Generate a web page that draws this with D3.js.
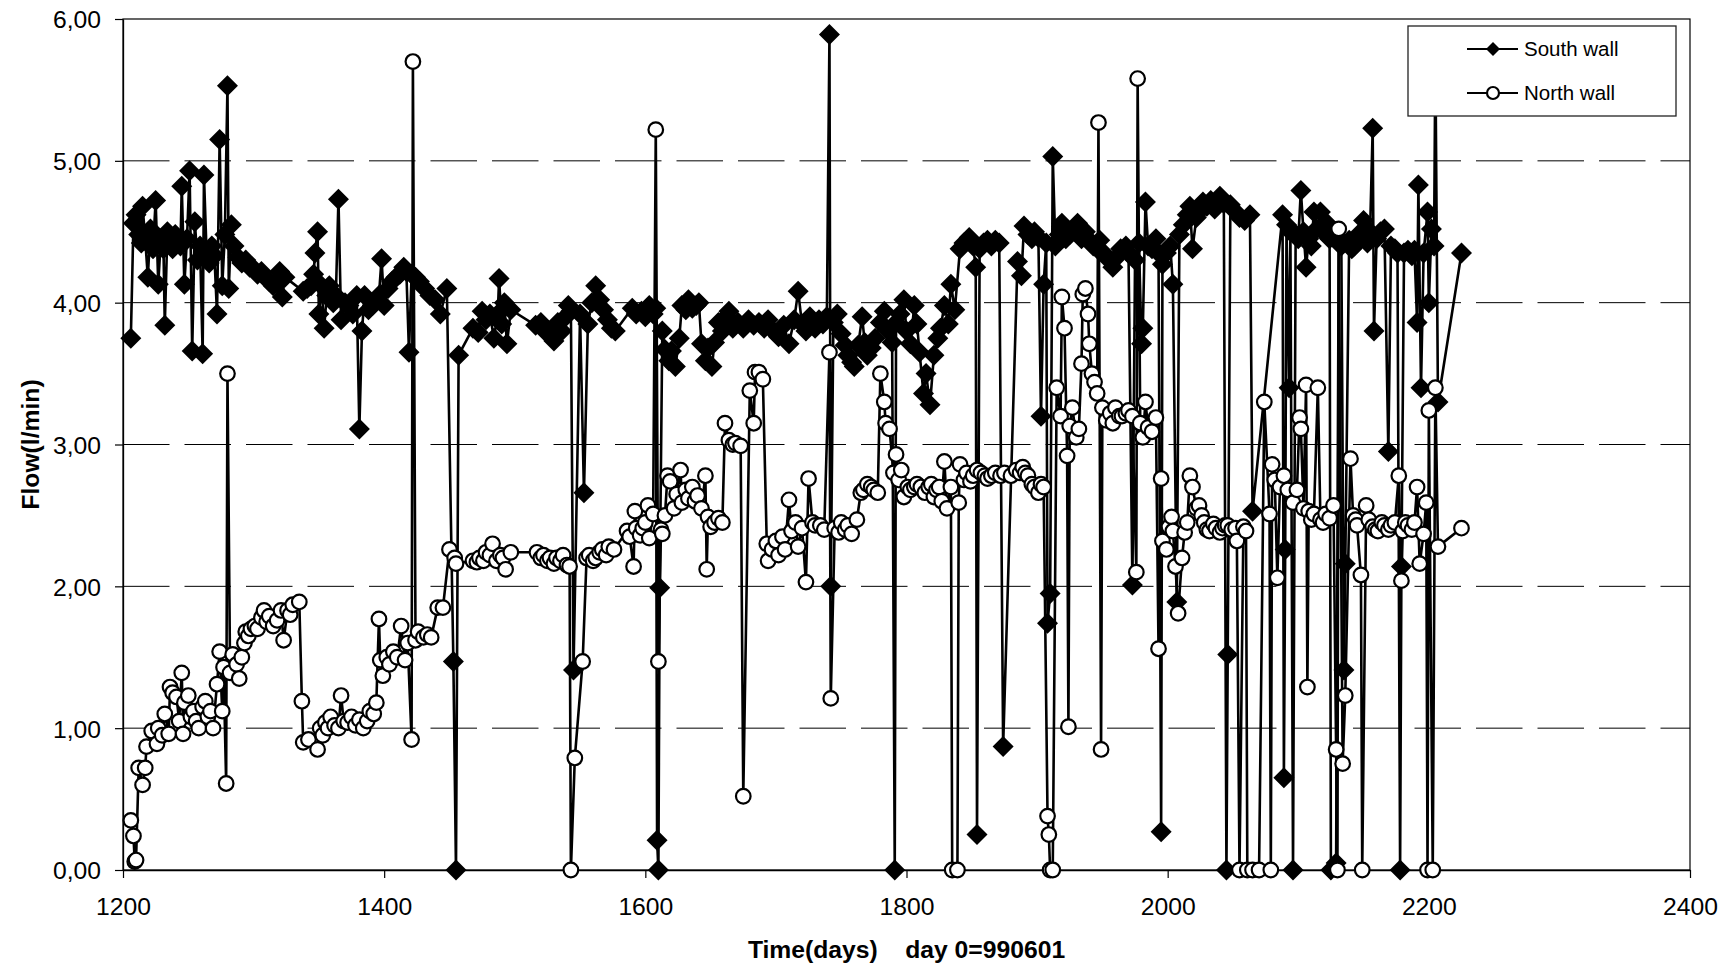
<!DOCTYPE html>
<html>
<head>
<meta charset="utf-8">
<title>Flow South / North wall</title>
<script src="https://cdn.jsdelivr.net/npm/d3@7"></script>
<style>
  body { margin: 0; background: #fff; }
  svg { display: block; font-family: "Liberation Sans", Arial, sans-serif; }
</style>
</head>
<body>
<script>
// South wall, day / flow (l/min)
var southDays = [1206,1208,1210,1212,1214,1215,1217,1219,1221,1223,1225,1227,1229,1231,1232,1234,1236,1238,1240,1242,1244,1245,1247,1249,1251,1253,1255,1257,1259,1261,1262,1264,1266,1268,1270,1272,1274,1276,1278,1280,1281,1283,1285,1288,1291,1294,1297,1300,1303,1306,1309,1312,1315,1318,1320,1322,1324,
  1338,1341,1344,1346,1347,1349,1350,1352,1354,1356,1358,1361,1363,1365,1367,1370,1373,1376,1379,1381,1383,1385,1388,1391,1394,1396,1398,1400,1403,1406,1409,1412,1415,1417,1419,1421,1424,1427,1431,1435,1439,1443,1448,1453,1455,1457,
  1468,1472,1475,1478,1481,1484,1487,1488,1490,1492,1494,1497,1516,1520,1523,1526,1530,1533,1536,1539,1541,1543,1545,1550,1553,1556,1559,1562,1565,1568,1571,1574,1577,
  1590,1593,1597,1600,1603,1606,1608,1609,1610,1611,1613,1615,1618,1620,1623,1626,1628,1631,1633,1636,1639,1641,1643,1646,1648,1651,1653,1656,1659,1662,1664,1667,1671,1675,1679,1683,1687,1691,1694,1698,1702,1706,1710,1714,1717,1720,1723,1726,1730,1733,1736,1739,
  1741,1742,1744,1747,1750,1753,1755,1758,1760,1763,1766,1768,1770,1773,1776,1780,1783,1786,1789,1791,1792,1795,1798,1800,1803,1806,1808,1810,1813,1815,1818,1821,1824,1826,1829,1832,1834,1837,1841,1844,1848,1851,1853,1854,1856,1859,1862,1865,1868,1871,1874,
  1885,1888,1890,1893,1896,1898,1901,1903,1905,1907,1908,1910,1912,1914,1917,1919,1922,1925,1928,1931,1934,1937,1940,1943,1946,1948,1951,1955,1958,1961,1964,1968,1970,1973,1975,1978,1980,1981,1983,1985,1988,1991,1993,1995,1996,1999,
  2002,2004,2007,2009,2012,2015,2017,2019,2022,2025,2027,2030,2033,2036,2040,2043,2045,2046,2048,2051,2055,2059,2063,2065,2088,2089,2090,2091,2093,2094,2096,2098,2100,2102,2104,2106,2108,2110,2112,2114,2117,2119,2122,2124,2125,2129,2131,2133,2135,2136,2139,2141,2143,2146,2148,2150,2153,2155,2157,2158,2160,2163,2166,2169,2171,2174,2176,2178,2179,2181,2184,2187,2189,2191,2192,2194,2196,2199,2200,2202,2204,2205,2207,2225];
var southFlow = [3.75,4.56,4.62,4.48,4.42,4.68,4.45,4.18,4.52,4.38,4.72,4.13,4.45,4.38,3.84,4.50,4.45,4.38,4.48,4.42,4.40,4.82,4.13,4.45,4.93,3.66,4.57,4.30,4.40,3.64,4.90,4.35,4.28,4.40,4.33,3.92,5.15,4.12,4.48,5.53,4.10,4.55,4.40,4.32,4.28,4.30,4.25,4.24,4.20,4.22,4.18,4.15,4.12,4.14,4.22,4.04,4.18,
  4.08,4.10,4.12,4.20,4.35,4.50,3.92,4.12,3.82,4.05,4.12,4.00,4.05,4.73,3.88,4.00,3.98,3.92,4.05,3.11,3.80,4.05,3.95,3.98,4.02,4.05,4.31,3.98,4.10,4.15,4.18,4.20,4.25,4.22,3.65,4.20,4.18,4.15,4.10,4.05,4.02,3.92,4.10,1.47,0.00,3.63,
  3.82,3.79,3.94,3.88,3.92,3.75,3.92,4.17,3.85,4.00,3.71,3.95,3.84,3.86,3.80,3.79,3.73,3.86,3.80,3.90,3.98,3.94,1.41,3.92,2.66,3.85,4.00,4.12,4.02,3.95,3.88,3.82,3.80,
  3.96,3.92,3.94,3.90,3.98,3.92,3.96,0.21,0.00,1.99,3.80,3.67,3.59,3.66,3.55,3.75,3.98,3.95,4.02,3.96,3.98,4.00,3.71,3.59,3.68,3.55,3.72,3.86,3.80,3.90,3.94,3.82,3.86,3.82,3.88,3.84,3.86,3.82,3.88,3.80,3.76,3.84,3.71,3.88,4.08,3.85,3.80,3.90,3.82,3.88,3.85,3.90,
  5.89,2.00,3.86,3.92,3.78,3.70,3.63,3.58,3.55,3.70,3.90,3.72,3.63,3.68,3.75,3.86,3.94,3.80,3.72,0.00,3.86,3.92,4.02,3.80,3.71,3.98,3.85,3.65,3.36,3.50,3.28,3.63,3.75,3.82,3.98,3.85,4.13,3.95,4.38,4.42,4.46,4.40,4.25,0.25,4.38,4.42,4.44,4.40,4.44,4.42,0.87,
  4.29,4.19,4.54,4.48,4.45,4.50,4.46,3.20,4.13,4.42,1.74,1.95,5.03,4.40,4.48,4.56,4.45,4.48,4.52,4.56,4.45,4.50,4.44,4.40,4.38,4.44,4.35,4.30,4.25,4.32,4.38,4.40,4.35,2.01,4.30,4.42,3.71,3.82,4.71,4.40,4.38,4.45,4.35,0.27,4.27,4.35,
  4.40,4.13,1.89,4.48,4.55,4.62,4.68,4.38,4.60,4.65,4.71,4.68,4.72,4.66,4.75,4.70,0.00,1.52,4.69,4.65,4.60,4.58,4.62,2.53,4.62,0.65,2.26,4.55,3.40,4.50,0.00,4.48,4.45,4.79,4.50,4.25,4.45,4.40,4.64,4.52,4.64,4.50,4.56,4.45,0.00,0.05,4.45,4.40,1.41,2.16,4.44,4.38,4.40,4.48,4.45,4.58,4.42,4.50,5.23,3.80,4.45,4.50,4.52,2.95,4.40,4.38,4.35,0.00,2.14,4.35,4.37,4.33,4.37,3.86,4.83,3.40,4.35,4.64,4.00,4.52,4.40,5.75,3.30,4.35];

// North wall, day / flow (l/min)
var northDays = [1206,1208,1209,1210,1212,1215,1217,1218,1222,1226,1227,1230,1232,1235,1236,1238,1241,1243,1245,1246,1247,1250,1252,1254,1256,1258,1261,1263,1265,1267,1269,1272,1274,1276,1277,1279,1280,1282,1284,1287,1289,1291,1293,1294,1296,1298,1301,1303,1306,1308,1310,1312,1315,1318,1321,1323,1326,1328,1330,1335,1337,1338,
  1342,1349,1351,1353,1355,1357,1359,1362,1365,1367,1369,1372,1375,1378,1381,1384,1387,1389,1392,1394,1396,1397,1399,1402,1404,1407,1410,1413,1416,1418,1421,1422,1424,1426,1430,1433,1436,1441,1445,1450,1454,1455,
  1468,1471,1473,1476,1478,1481,1483,1486,1489,1491,1493,1497,1517,1520,1522,1525,1527,1530,1532,1535,1537,1540,1542,1543,1546,1552,1555,1557,1560,1562,1565,1567,1570,1572,1576,
  1586,1588,1591,1592,1593,1596,1598,1600,1602,1603,1606,1608,1610,1612,1613,1615,1617,1619,1622,1624,1627,1628,1631,1633,1636,1638,1640,1643,1646,1647,1648,1650,1653,1656,1659,1661,1664,1667,1669,1673,1675,1680,1683,1684,1687,1690,
  1693,1694,1697,1700,1702,1705,1707,1710,1712,1715,1717,1720,1723,1725,1728,1730,1734,1737,1741,1742,1745,1748,1750,1753,1755,1758,1762,1765,1767,1770,1773,1775,1778,1780,1783,1784,1787,1790,1792,1794,1796,1798,
  1801,1803,1806,1808,1811,1814,1817,1819,1821,1823,1825,1827,1829,1831,1834,1835,1839,1840,1841,1844,1846,1849,1851,1854,1857,1860,1862,1865,1868,1872,1875,1880,1884,1887,1889,1891,1893,1896,1898,1901,1903,1905,1908,1909,1910,1912,
  1915,1918,1919,1921,1923,1924,1925,1927,1930,1932,1934,1935,1937,1939,1940,1942,1944,1946,1947,1949,1950,1953,1956,1958,1960,1963,1965,1968,1970,1973,1976,1977,1979,1981,1983,1985,1988,1991,1993,1995,1996,1999,
  2001,2003,2004,2006,2008,2011,2013,2015,2017,2019,2022,2024,2026,2028,2030,2032,2035,2037,2040,2042,2044,2046,2049,2052,2053,2055,2058,2060,2061,2065,2070,2074,2078,2079,2080,2082,2084,2086,2089,2092,2096,2099,
  2101,2102,2104,2106,2107,2108,2110,2112,2115,2117,2119,2121,2124,2127,2129,2130,2131,2134,2136,2140,2142,2144,2145,2148,2149,2152,2154,2157,2159,2161,2164,2166,2169,2171,2174,2177,2179,2180,2182,2184,2187,2189,2191,2193,2196,2198,2199,2200,2203,2205,2207,2225];
var northFlow = [0.35,0.24,0.06,0.07,0.72,0.60,0.72,0.87,0.98,0.89,1.00,0.95,1.10,0.96,1.29,1.25,1.22,1.05,1.39,0.96,1.18,1.23,1.08,1.12,1.05,1.00,1.15,1.19,1.08,1.12,1.00,1.31,1.54,1.12,1.43,0.61,3.50,1.39,1.52,1.45,1.35,1.50,1.60,1.68,1.65,1.70,1.72,1.70,1.78,1.83,1.75,1.79,1.72,1.76,1.83,1.62,1.83,1.80,1.87,1.89,1.19,0.90,
  0.92,0.85,1.00,0.95,1.04,1.00,1.08,1.02,1.00,1.23,1.05,1.04,1.08,1.02,1.06,1.00,1.05,1.12,1.10,1.18,1.77,1.48,1.37,1.50,1.45,1.54,1.50,1.72,1.48,1.60,0.92,5.70,1.62,1.68,1.64,1.66,1.64,1.85,1.85,2.26,2.20,2.16,
  2.18,2.17,2.20,2.18,2.24,2.22,2.30,2.18,2.22,2.20,2.12,2.24,2.24,2.20,2.22,2.18,2.20,2.16,2.20,2.18,2.22,2.15,2.14,0.00,0.79,1.47,2.20,2.22,2.18,2.20,2.24,2.26,2.22,2.28,2.26,
  2.39,2.35,2.14,2.53,2.41,2.36,2.41,2.45,2.57,2.34,2.51,5.22,1.47,2.40,2.37,2.50,2.78,2.74,2.55,2.65,2.82,2.59,2.68,2.62,2.70,2.60,2.64,2.55,2.78,2.12,2.49,2.42,2.45,2.48,2.45,3.15,3.03,3.00,3.01,2.99,0.52,3.38,3.15,3.51,3.51,3.46,
  2.30,2.18,2.26,2.32,2.22,2.35,2.26,2.61,2.39,2.45,2.28,2.41,2.03,2.76,2.45,2.43,2.43,2.40,3.65,1.21,2.41,2.38,2.45,2.40,2.43,2.37,2.47,2.66,2.68,2.72,2.70,2.68,2.66,3.50,3.30,3.15,3.11,2.80,2.93,2.75,2.82,2.63,
  2.70,2.68,2.70,2.72,2.70,2.66,2.70,2.72,2.63,2.68,2.70,2.60,2.88,2.55,2.70,0.00,0.00,2.59,2.86,2.75,2.80,2.74,2.78,2.82,2.80,2.78,2.76,2.78,2.80,2.78,2.80,2.78,2.82,2.80,2.84,2.80,2.78,2.72,2.70,2.66,2.72,2.70,0.38,0.25,0.00,0.00,
  3.40,3.20,4.04,3.82,2.92,1.01,3.13,3.26,3.05,3.11,3.57,4.06,4.10,3.92,3.71,3.50,3.44,3.36,5.27,0.85,3.26,3.17,3.22,3.15,3.26,3.20,3.20,3.22,3.24,3.20,2.10,5.58,3.15,3.05,3.30,3.12,3.09,3.19,1.56,2.76,2.32,2.26,
  2.42,2.49,2.39,2.14,1.81,2.20,2.38,2.45,2.78,2.70,2.55,2.57,2.50,2.45,2.40,2.39,2.44,2.41,2.38,2.41,2.43,2.43,2.40,2.41,2.32,0.00,2.42,2.39,0.00,0.00,0.00,3.30,2.51,0.00,2.86,2.75,2.06,2.70,2.78,2.68,2.59,2.68,
  3.19,3.11,2.55,3.42,1.29,2.53,2.47,2.51,3.40,2.47,2.45,2.51,2.48,2.57,0.85,0.00,4.52,0.75,1.23,2.90,2.50,2.47,2.43,2.08,0.00,2.57,2.47,2.42,2.40,2.39,2.45,2.43,2.40,2.43,2.45,2.78,2.04,2.39,2.45,2.43,2.40,2.45,2.70,2.16,2.37,2.59,0.00,3.24,0.00,3.40,2.28,2.41];

var xTicks = [1200, 1400, 1600, 1800, 2000, 2200, 2400];
var yTicks = [0, 1, 2, 3, 4, 5, 6];
var seriesNames = ["South wall", "North wall"];

var south = southDays.map(function(d, i) { return [d, southFlow[i]]; });
var north = northDays.map(function(d, i) { return [d, northFlow[i]]; });

const W = 1731, H = 970;
const margin = {top: 19, right: 41, bottom: 100, left: 123};

var svg = d3.select("body").append("svg")
    .attr("width", W)
    .attr("height", H);

var x = d3.scaleLinear().domain([1200, 2400]).range([margin.left, W - margin.right]);
var y = d3.scaleLinear().domain([0, 6]).range([H - margin.bottom, margin.top]);

// dashed gridlines
svg.append("g").selectAll("line")
    .data(yTicks.filter(function(v) { return v > 0 && v < 6; }))
    .enter().append("line")
    .attr("x1", x(1200)).attr("x2", x(2400))
    .attr("y1", function(d) { return y(d); })
    .attr("y2", function(d) { return y(d); })
    .attr("stroke", "#000")
    .attr("stroke-width", 1)
    .attr("stroke-dasharray", "46.5,15");

// plot area frame
svg.append("rect")
    .attr("x", x(1200)).attr("y", y(6))
    .attr("width", x(2400) - x(1200))
    .attr("height", y(0) - y(6))
    .attr("fill", "none")
    .attr("stroke", "#000")
    .attr("stroke-width", 1.2);

var fmt = function(v) { return d3.format(".2f")(v).replace(".", ","); };

var yAxis = svg.append("g")
    .attr("transform", "translate(" + margin.left + ",0)")
    .call(d3.axisLeft(y).tickValues(yTicks).tickSize(8).tickSizeOuter(0).tickPadding(14).tickFormat(fmt));

var xAxis = svg.append("g")
    .attr("transform", "translate(0," + y(0) + ")")
    .call(d3.axisBottom(x).tickValues(xTicks).tickSize(8).tickSizeOuter(0).tickPadding(19.5).tickFormat(d3.format("d")));

[xAxis, yAxis].forEach(function(a) {
    a.selectAll("text")
        .attr("fill", "#000")
        .style("font-family", "'Liberation Sans', Arial, sans-serif")
        .style("font-size", "24.7px");
    a.select(".domain").attr("stroke", "#000").attr("stroke-width", 1.3);
    a.selectAll(".tick line").attr("stroke", "#000").attr("stroke-width", 1.2);
});
yAxis.selectAll("text").attr("dy", "0.36em");

// axis titles
svg.append("text")
    .attr("x", (x(1200) + x(2400)) / 2)
    .attr("y", 958)
    .attr("text-anchor", "middle")
    .style("font-size", "24.7px")
    .style("font-weight", "bold")
    .style("white-space", "pre")
    .text("Time(days)    day 0=990601");

svg.append("text")
    .attr("transform", "translate(39," + ((y(0) + y(6)) / 2) + ") rotate(-90)")
    .attr("text-anchor", "middle")
    .style("font-size", "24.7px")
    .style("font-weight", "bold")
    .text("Flow(l/min)");

var line = d3.line()
    .x(function(d) { return x(d[0]); })
    .y(function(d) { return y(d[1]); });

var diamond = function(s) { return "M0," + (-s) + "L" + s + ",0L0," + s + "L" + (-s) + ",0Z"; };

// South wall
svg.append("path")
    .datum(south)
    .attr("d", line)
    .attr("fill", "none")
    .attr("stroke", "#000")
    .attr("stroke-width", 2.6)
    .attr("stroke-linejoin", "round");

svg.append("g").selectAll("path")
    .data(south)
    .enter().append("path")
    .attr("d", diamond(10.5))
    .attr("transform", function(d) { return "translate(" + x(d[0]) + "," + y(d[1]) + ")"; })
    .attr("fill", "#000");

// North wall
svg.append("path")
    .datum(north)
    .attr("d", line)
    .attr("fill", "none")
    .attr("stroke", "#000")
    .attr("stroke-width", 2.6)
    .attr("stroke-linejoin", "round");

svg.append("g").selectAll("circle")
    .data(north)
    .enter().append("circle")
    .attr("cx", function(d) { return x(d[0]); })
    .attr("cy", function(d) { return y(d[1]); })
    .attr("r", 7.3)
    .attr("fill", "#fff")
    .attr("stroke", "#000")
    .attr("stroke-width", 2.2);

// legend
var legend = svg.append("g");
legend.append("rect")
    .attr("x", 1408).attr("y", 26)
    .attr("width", 268).attr("height", 90)
    .attr("fill", "#fff")
    .attr("stroke", "#222")
    .attr("stroke-width", 1.3);

seriesNames.forEach(function(name, i) {
    var ly = 49 + i * 44;
    legend.append("line")
        .attr("x1", 1467).attr("x2", 1518)
        .attr("y1", ly).attr("y2", ly)
        .attr("stroke", "#000").attr("stroke-width", 2.2);
    if (i === 0) {
        legend.append("path")
            .attr("d", diamond(7))
            .attr("transform", "translate(1493," + ly + ")")
            .attr("fill", "#000");
    } else {
        legend.append("circle")
            .attr("cx", 1493).attr("cy", ly).attr("r", 6)
            .attr("fill", "#fff").attr("stroke", "#000").attr("stroke-width", 2.2);
    }
    legend.append("text")
        .attr("x", 1524).attr("y", ly)
        .attr("dy", "0.36em")
        .style("font-size", "20.5px")
        .text(name);
});
</script>
</body>
</html>
